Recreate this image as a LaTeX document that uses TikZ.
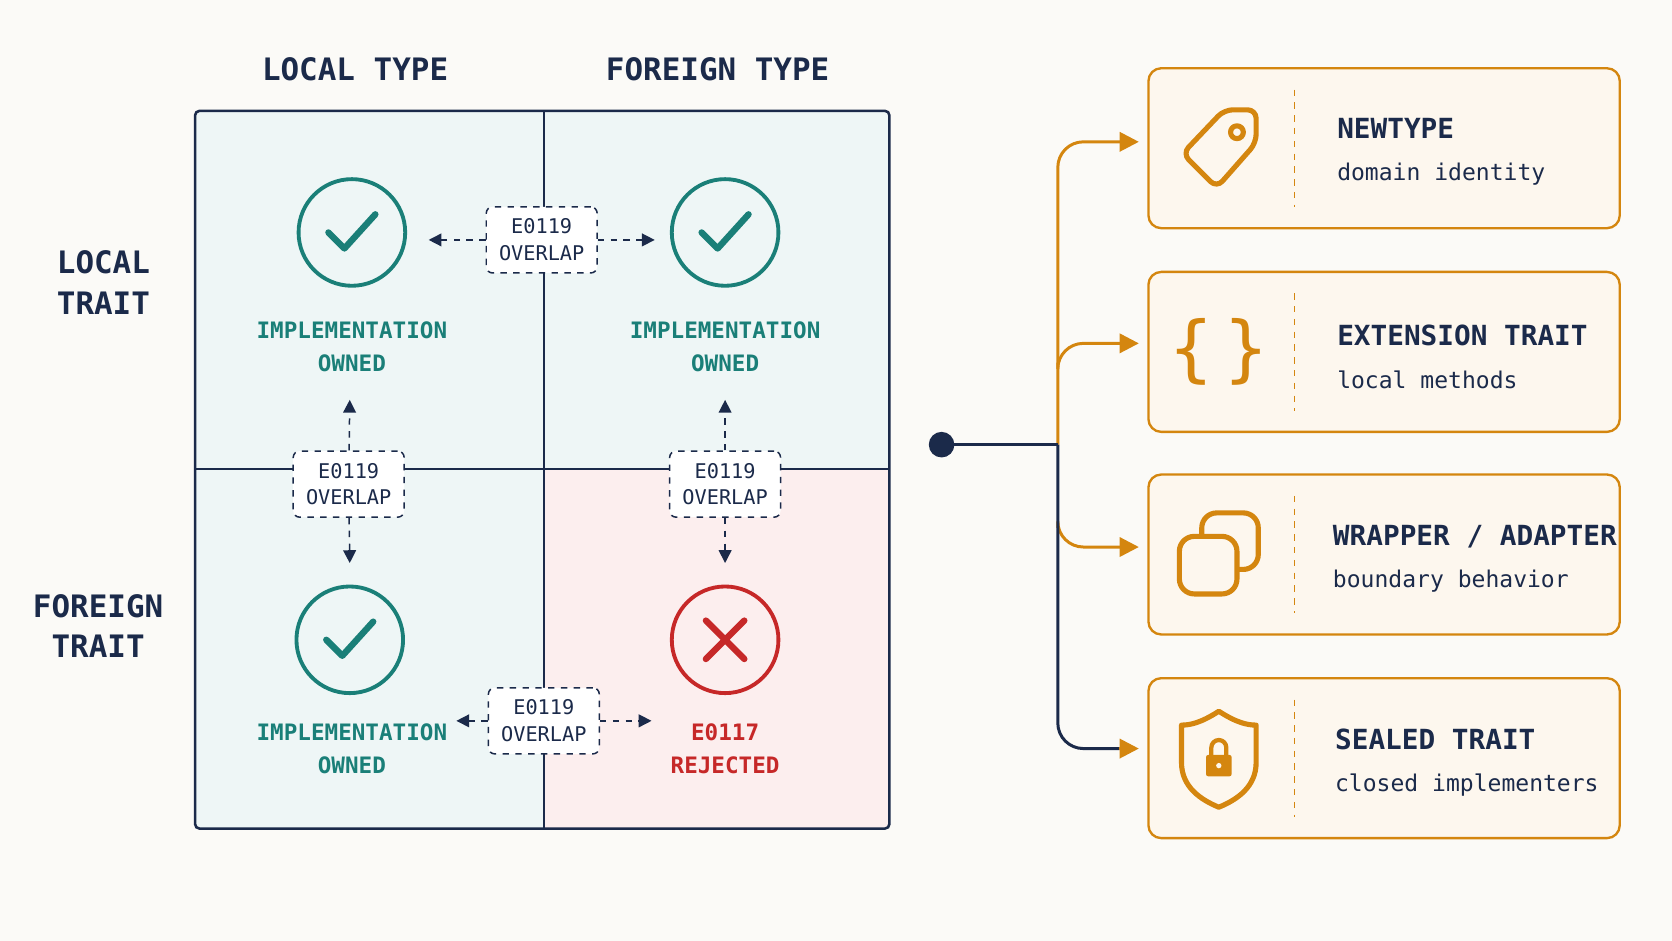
\documentclass[tikz,border=0pt]{standalone}
\usepackage{fontspec}
\setmonofont{DejaVu Sans Mono}
\usetikzlibrary{arrows.meta}
\definecolor{bg}{HTML}{FBFAF7}
\definecolor{navy}{HTML}{1B2A4A}
\definecolor{teal}{HTML}{1A7F78}
\definecolor{red}{HTML}{C62828}
\definecolor{org}{HTML}{D4860F}
\definecolor{cyanbg}{HTML}{EEF6F6}
\definecolor{pinkbg}{HTML}{FCEEEE}
\definecolor{cardbg}{HTML}{FDF7EE}
\begin{document}
\begin{tikzpicture}[x=0.5pt,y=-0.5pt,
  head/.style={font=\ttfamily\bfseries\fontsize{14.5}{19}\selectfont,text=navy,align=center},
  lab/.style={font=\ttfamily\bfseries\fontsize{10.6}{15.5}\selectfont,align=center},
  ebox/.style={draw=navy,dashed,fill=white,rounded corners=3pt,line width=0.7pt,font=\ttfamily\fontsize{9.5}{12.5}\selectfont,text=navy,align=center,minimum width=52pt,minimum height=31pt,inner sep=1pt},
  darr/.style={navy,dashed,line width=0.7pt,-{Triangle[length=6pt,width=6pt]}},
  card/.style={draw=org,fill=cardbg,rounded corners=6pt,line width=1.1pt,minimum width=221pt,minimum height=75pt},
  ttl/.style={font=\ttfamily\bfseries\fontsize{13}{16}\selectfont,text=navy,anchor=west},
  sub/.style={font=\ttfamily\fontsize{10.8}{14}\selectfont,text=navy,anchor=west},
  oarr/.style={org,line width=1.4pt,-{Triangle[length=9pt,width=9pt]}},
  ring/.style={line width=1.8pt}]
\fill[bg] (0,0) rectangle (1568,882);
\useasboundingbox (0,0) rectangle (1568,882);
% grid
\fill[cyanbg] (183,104) rectangle (834,777);
\fill[pinkbg] (510,440) rectangle (834,777);
\draw[navy,line width=1.2pt,rounded corners=2pt] (183,104) rectangle (834,777);
\draw[navy,line width=1.2pt] (510,104) -- (510,777) (183,440) -- (834,440);
\node[head] (h1) at (333,65) {LOCAL TYPE};
\node[head] (h2) at (673,65) {FOREIGN TYPE};
\node[head] (h3) at (97,265) {LOCAL\\TRAIT};
\node[head] (h4) at (92,587) {FOREIGN\\TRAIT};
% circles
\foreach \n/\x/\y/\c in {c1/330/218/teal,c2/680/218/teal,c3/328/600/teal,c4/680/600/red}{
  \draw[\c,ring] (\x,\y) circle[radius=50];
  \coordinate (\n) at (\x,\y);}
\foreach \n in {c1,c2,c3}{
  \draw[teal,line width=3pt,line cap=round,line join=round] ([shift={(-22,0)}]\n) -- ([shift={(-7,15)}]\n) -- ([shift={(22,-17)}]\n);}
\draw[red,line width=3pt,line cap=round] ([shift={(-18,-18)}]c4) -- ([shift={(18,18)}]c4) ([shift={(-18,18)}]c4) -- ([shift={(18,-18)}]c4);
\node[lab,text=teal] (l1) at (330,325) {IMPLEMENTATION\\OWNED};
\node[lab,text=teal] (l2) at (680,325) {IMPLEMENTATION\\OWNED};
\node[lab,text=teal] (l3) at (330,702) {IMPLEMENTATION\\OWNED};
\node[lab,text=red] (l4) at (680,702) {E0117\\REJECTED};
% dashed boxes
\node[ebox] (b1) at (508,225) {E0119\\OVERLAP};
\node[ebox] (b2) at (327,454) {E0119\\OVERLAP};
\node[ebox] (b3) at (680,454) {E0119\\OVERLAP};
\node[ebox] (b4) at (510,676) {E0119\\OVERLAP};
\coordinate (a1) at (402,225); \coordinate (a2) at (614,225);
\coordinate (a3) at (328,375); \coordinate (a4) at (328,528);
\coordinate (a5) at (680,375); \coordinate (a6) at (680,528);
\coordinate (a7) at (428,676); \coordinate (a8) at (611,676);
\draw[darr] (b1) -- (a1); \draw[darr] (b1) -- (a2);
\draw[darr] (b2) -- (a3); \draw[darr] (b2) -- (a4);
\draw[darr] (b3) -- (a5); \draw[darr] (b3) -- (a6);
\draw[darr] (b4) -- (a7); \draw[darr] (b4) -- (a8);
% tree
\fill[navy] (883,417) circle[radius=12];
\coordinate (dot) at (883,417);
\coordinate (t1) at (1068,133); \coordinate (t2) at (1068,322);
\coordinate (t3) at (1068,513); \coordinate (t4) at (1068,702);
\draw[oarr,rounded corners=12pt] (992,417) -- (992,133) -- (t1);
\draw[oarr,rounded corners=12pt] (992,340) -- (992,322) -- (t2);
\draw[oarr,rounded corners=12pt] (992,495) -- (992,513) -- (t3);
\draw[navy,line width=1.4pt] (dot) -- (992,417);
\draw[navy,line width=1.4pt,rounded corners=12pt] (992,417) -- (992,702) -- (1050,702);
\draw[oarr] (1049,702) -- (t4);
% cards
\foreach \n/\y in {k1/139,k2/330,k3/520,k4/711}{
  \node[card] (\n) at (1298,\y) {};
  \draw[org,dashed,line width=0.9pt] (1214,\y-55) -- (1214,\y+55);}
\node[ttl] (n1) at (1247,120) {NEWTYPE};
\node[sub] (s1) at (1247,163) {domain identity};
\node[ttl] (n2) at (1247,315) {EXTENSION TRAIT};
\node[sub] (s2) at (1247,356) {local methods};
\node[ttl] (n3) at (1243,503) {WRAPPER / ADAPTER};
\node[sub] (s3) at (1243,545) {boundary behavior};
\node[ttl] (n4) at (1245,693) {SEALED TRAIT};
\node[sub] (s4) at (1245,736) {closed implementers};
% icons
\begin{scope}[org,line width=2.4pt,line join=round,line cap=round]
% tag
\draw[rounded corners=4pt] (1148,103) -- (1178,103) -- (1178,134) -- (1141,176) -- (1109,144) -- cycle;
\draw (1160,124) circle[radius=6];
% braces
\node[org,font=\ttfamily\fontsize{34}{34}\selectfont] (br) at (1143,330) {\{\,\}};
% squares
\draw[rounded corners=7pt] (1127,481) rectangle (1180,534);
\draw[rounded corners=7pt,fill=cardbg] (1106,503) rectangle (1160,557);
% shield
\draw (1143,667) .. controls (1160,678) and (1170,680) .. (1178,680) -- (1178,715) .. controls (1178,738) and (1160,750) .. (1143,757) .. controls (1126,750) and (1108,738) .. (1108,715) -- (1108,680) .. controls (1116,680) and (1126,678) .. (1143,667) -- cycle;
\fill[rounded corners=1pt] (1131,708) rectangle (1155,728);
\draw[line width=2pt] (1136,708) -- (1136,701) arc[start angle=180,end angle=360,radius=7] -- (1150,708);
\end{scope}
\fill[cardbg] (1143,718) circle[radius=2.5];
\end{tikzpicture}
\end{document}
